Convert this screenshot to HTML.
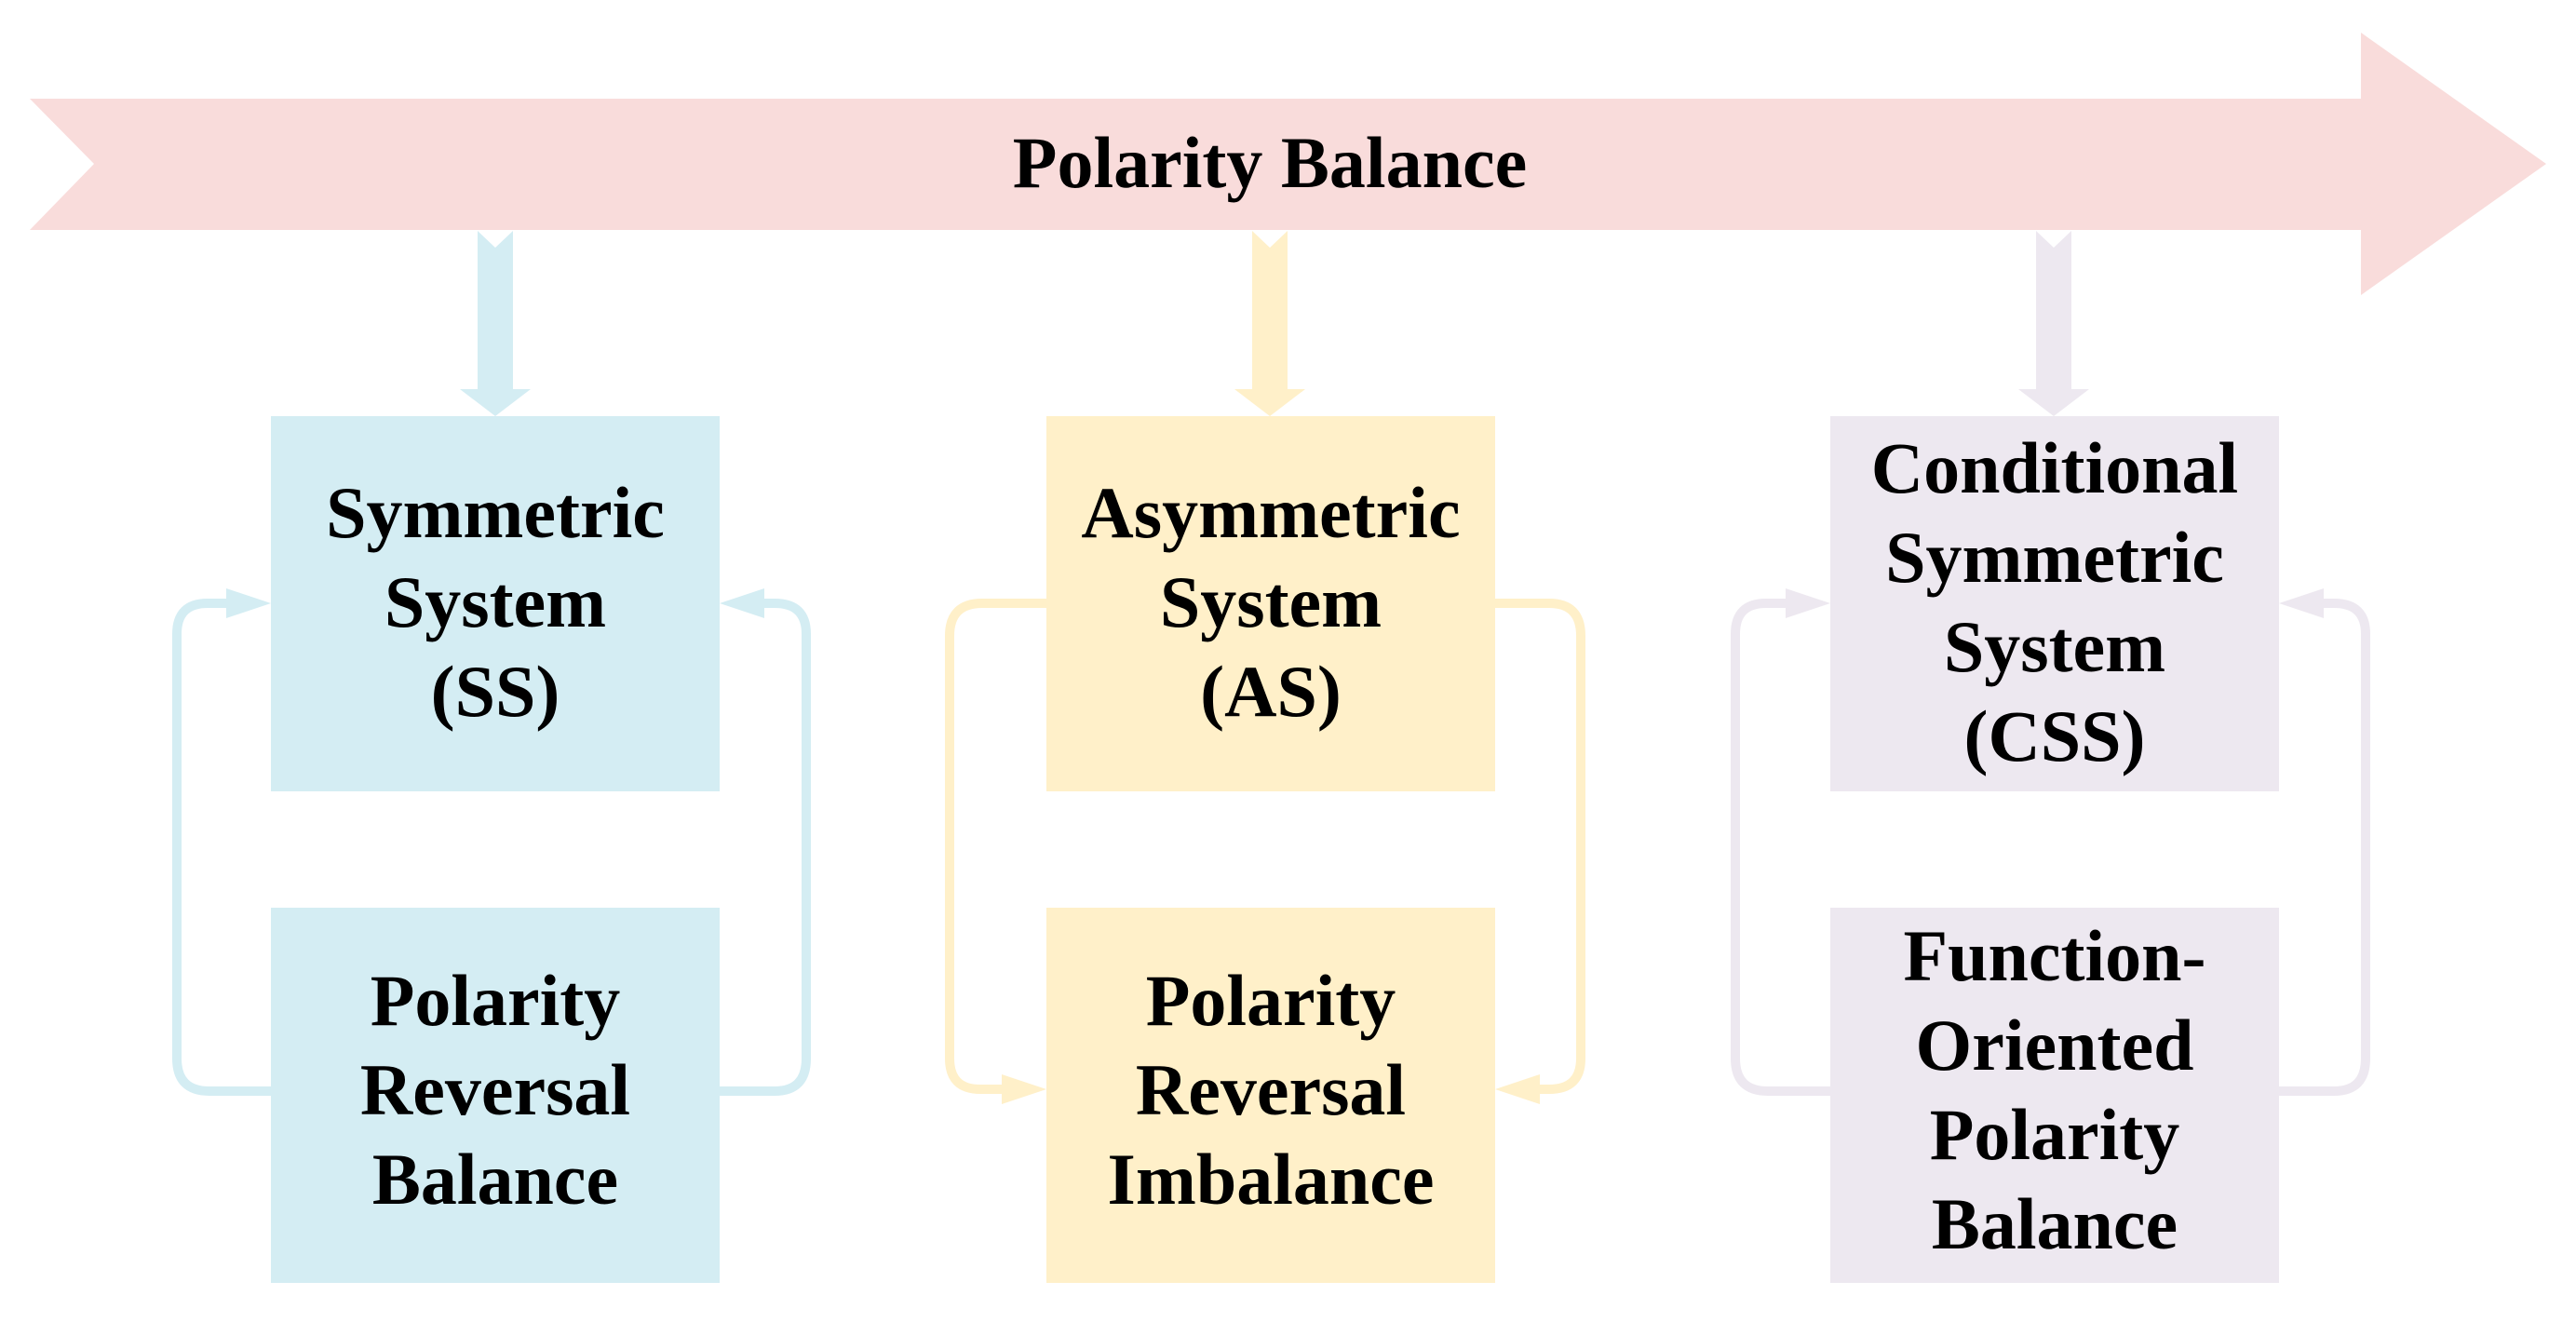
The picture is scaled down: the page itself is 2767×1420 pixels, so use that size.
<!DOCTYPE html>
<html><head><meta charset="utf-8"><style>
html,body{margin:0;padding:0;background:#fff;}
svg{display:block;}
text{font-family:"Liberation Serif","Times New Roman",serif;font-weight:bold;fill:#000;font-size:78px;text-anchor:middle;}
</style></head><body>
<svg width="2767" height="1420" viewBox="0 0 2767 1420" xmlns="http://www.w3.org/2000/svg">
<polygon points="32,106 2536,106 2536,35 2735,176 2536,317 2536,247 32,247 101,176" fill="#f9dcdb"/>
<text x="1364" y="201" font-size="79">Polarity Balance</text>

<polygon points="513,248 532,266 551,248 551,418 570,418 532,447 494,418 513,418" fill="#d4edf3"/>
<polygon points="1345,248 1364,266 1383,248 1383,418 1402,418 1364,447 1326,418 1345,418" fill="#fff0c9"/>
<polygon points="2187,248 2206,266 2225,248 2225,418 2244,418 2206,447 2168,418 2187,418" fill="#ede8f0"/>

<rect x="291" y="447" width="482" height="403" fill="#d4edf3"/>
<rect x="291" y="975" width="482" height="403" fill="#d4edf3"/>
<rect x="1124" y="447" width="482" height="403" fill="#fff0c9"/>
<rect x="1124" y="975" width="482" height="403" fill="#fff0c9"/>
<rect x="1966" y="447" width="482" height="403" fill="#ede8f0"/>
<rect x="1966" y="975" width="482" height="403" fill="#ede8f0"/>

<g fill="none" stroke="#d4edf3" stroke-width="10">
<path d="M291,1172 H225 Q190,1172 190,1137 V681 Q190,648 223,648 H250"/>
<path d="M773,1172 H832 Q866,1172 866,1137 V681 Q866,648 832,648 H815"/>
</g>
<polygon points="243,632 291,648 243,664" fill="#d4edf3"/>
<polygon points="821,632 773,648 821,664" fill="#d4edf3"/>

<g fill="none" stroke="#fff0c9" stroke-width="10">
<path d="M1124,648 H1055 Q1020,648 1020,683 V1137 Q1020,1170 1053,1170 H1080"/>
<path d="M1606,648 H1664 Q1698,648 1698,683 V1137 Q1698,1170 1664,1170 H1650"/>
</g>
<polygon points="1076,1154 1124,1170 1076,1186" fill="#fff0c9"/>
<polygon points="1654,1154 1606,1170 1654,1186" fill="#fff0c9"/>

<g fill="none" stroke="#ede8f0" stroke-width="10">
<path d="M1966,1172 H1899 Q1864,1172 1864,1137 V681 Q1864,648 1897,648 H1925"/>
<path d="M2448,1172 H2507 Q2541,1172 2541,1137 V681 Q2541,648 2507,648 H2490"/>
</g>
<polygon points="1918,632 1966,648 1918,664" fill="#ede8f0"/>
<polygon points="2496,632 2448,648 2496,664" fill="#ede8f0"/>

<text x="532" y="577">Symmetric</text>
<text x="532" y="673">System</text>
<text x="532" y="769">(SS)</text>

<text x="532" y="1101">Polarity</text>
<text x="532" y="1197">Reversal</text>
<text x="532" y="1293">Balance</text>

<text x="1365" y="577">Asymmetric</text>
<text x="1365" y="673">System</text>
<text x="1365" y="769">(AS)</text>

<text x="1365" y="1101">Polarity</text>
<text x="1365" y="1197">Reversal</text>
<text x="1365" y="1293">Imbalance</text>

<text x="2207" y="529">Conditional</text>
<text x="2207" y="625">Symmetric</text>
<text x="2207" y="721">System</text>
<text x="2207" y="817">(CSS)</text>

<text x="2207" y="1053">Function-</text>
<text x="2207" y="1149">Oriented</text>
<text x="2207" y="1245">Polarity</text>
<text x="2207" y="1341">Balance</text>
</svg>
</body></html>
